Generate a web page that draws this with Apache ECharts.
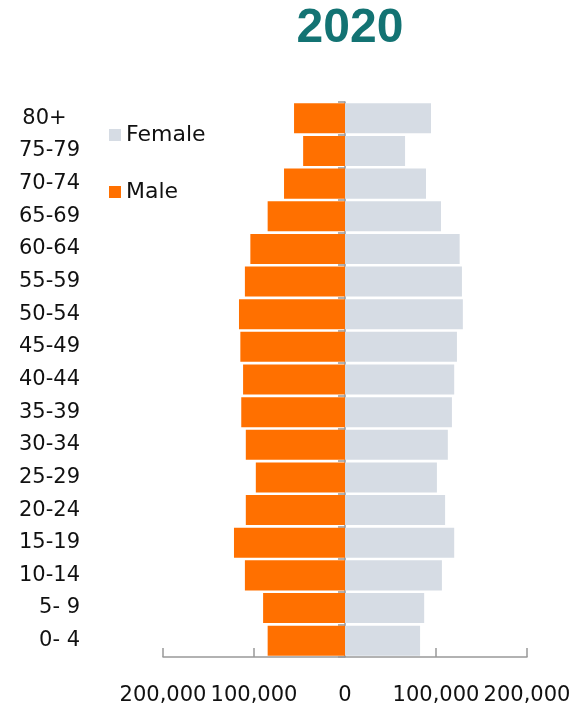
<!DOCTYPE html>
<html>
<head>
<meta charset="utf-8">
<script src="https://cdn.jsdelivr.net/npm/echarts@6/dist/echarts.min.js"></script>
<style>html,body{margin:0;padding:0;background:#fff}#c{width:575px;height:711px}</style>
</head>
<body>
<div id="c"></div>
<script>
const title = '2020';
const ageGroups = ['0- 4','5- 9','10-14','15-19','20-24','25-29','30-34','35-39','40-44','45-49','50-54','55-59','60-64','65-69','70-74','75-79','80+'];
const maleValues = [85000, 90000, 110000, 122000, 109000, 98000, 109000, 114000, 112000, 115000, 116500, 110000, 104000, 85000, 67000, 46000, 56000];
const femaleValues = [82500, 87000, 106500, 120000, 110000, 101000, 113000, 117500, 120000, 123000, 129500, 128500, 126000, 105500, 89000, 66000, 94500];
const xTicks = [-200000, -100000, 0, 100000, 200000];

const chart = echarts.init(document.getElementById('c'));
const font = 'DejaVu Sans';
chart.setOption({
  animation: false,
  backgroundColor: '#ffffff',
  title: {
    text: title, left: 345, top: 0, textAlign: 'center',
    textStyle: { fontFamily: 'Liberation Sans', fontWeight: 'bold', fontSize: 48, color: '#137373' }
  },
  legend: {
    data: ['Female', 'Male'], orient: 'vertical', left: 104, top: 119,
    itemWidth: 12, itemHeight: 12, itemGap: 35, icon: 'rect',
    textStyle: { fontFamily: font, fontSize: 22, color: '#111' }
  },
  grid: { left: 163, right: 48, top: 102, bottom: 54 },
  xAxis: {
    type: 'value', min: xTicks[0], max: xTicks[xTicks.length - 1], interval: 100000,
    splitLine: { show: false },
    axisLine: { show: true, lineStyle: { color: '#999', width: 1.5 } },
    axisTick: { show: true, inside: true, length: 9, lineStyle: { color: '#999', width: 1.5 } },
    axisLabel: {
      margin: 28, fontFamily: font, fontSize: 21, color: '#111',
      formatter: v => Math.abs(v).toLocaleString('en-US')
    }
  },
  yAxis: [
    {
      type: 'category', data: ageGroups,
      axisLine: { show: true, onZero: true, lineStyle: { color: '#999', width: 1.5 } },
      axisTick: { show: true, length: 7, lineStyle: { color: '#999', width: 1.5 } },
      axisLabel: { show: false }
    },
    {
      type: 'category', data: ageGroups, position: 'left',
      axisLine: { show: false, onZero: false }, axisTick: { show: false },
      axisLabel: {
        margin: 83, fontFamily: font, fontSize: 21, color: '#111', padding: [5, 0, 0, 0],
        formatter: v => v === '80+' ? v + '  ' : v
      }
    }
  ],
  series: [
    {
      name: 'Male', type: 'bar', yAxisIndex: 0, barWidth: '92%', barGap: '-100%',
      data: maleValues.map(v => -v),
      itemStyle: { color: '#FF7000' }
    },
    {
      name: 'Female', type: 'bar', yAxisIndex: 0, barWidth: '92%', barGap: '-100%',
      data: femaleValues,
      itemStyle: { color: '#D6DCE4' }
    }
  ]
});
</script>
</body>
</html>
